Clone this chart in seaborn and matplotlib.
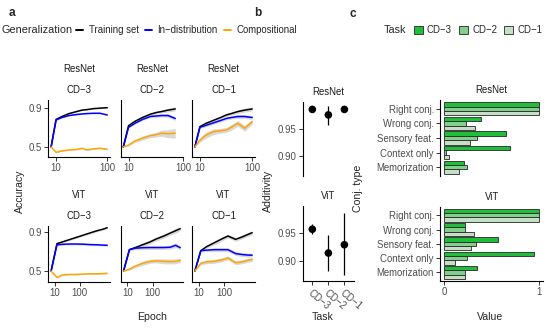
import numpy as np
import pandas as pd
import matplotlib
matplotlib.use("Agg")
import matplotlib.pyplot as plt
from matplotlib.lines import Line2D
from matplotlib.patches import Patch
from matplotlib.ticker import NullLocator
import seaborn as sns

sns.set_style("ticks")
plt.rcParams["font.family"] = ["Liberation Sans", "DejaVu Sans"]

tasks = ["CD−3", "CD−2", "CD−1"]
gen_types = ["Training set", "In−distribution", "Compositional"]
gen_colors = ["black", "#0000FF", "#FFA500"]
task_colors = ["#1fbf3a", "#80d08c", "#c6ddc6"]

# panel a: accuracy curves, ResNet
resnet_epochs = {"CD−3": [8, 10, 13, 18, 25, 32, 40, 53, 72, 100],
                 "CD−2": [8, 10, 13, 18, 25, 32, 40, 53, 72],
                 "CD−1": [8, 10, 13, 18, 25, 32, 40, 53, 72, 100]}
resnet_train = {"CD−3": [0.50, 0.78, 0.81, 0.84, 0.86, 0.875, 0.88, 0.89, 0.895, 0.90],
                "CD−2": [0.50, 0.717, 0.76, 0.80, 0.833, 0.85, 0.86, 0.875, 0.887],
                "CD−1": [0.50, 0.707, 0.74, 0.77, 0.80, 0.826, 0.84, 0.86, 0.875, 0.887]}
resnet_indist = {"CD−3": [0.50, 0.775, 0.80, 0.82, 0.83, 0.836, 0.84, 0.843, 0.843, 0.826],
                 "CD−2": [0.50, 0.70, 0.74, 0.78, 0.81, 0.815, 0.82, 0.82, 0.79],
                 "CD−1": [0.50, 0.70, 0.72, 0.745, 0.77, 0.79, 0.80, 0.81, 0.81, 0.80]}
resnet_comp = {"CD−3": [0.50, 0.446, 0.46, 0.47, 0.475, 0.487, 0.47, 0.48, 0.487, 0.477],
               "CD−2": [0.50, 0.52, 0.56, 0.59, 0.615, 0.625, 0.64, 0.635, 0.64],
               "CD−1": [0.50, 0.57, 0.62, 0.655, 0.665, 0.673, 0.70, 0.74, 0.69, 0.757]}
resnet_band_fit = {"CD−3": [0, 0.005, 0.005, 0.005, 0.005, 0.005, 0.005, 0.005, 0.005, 0.005],
                   "CD−2": [0, 0.005, 0.01, 0.01, 0.012, 0.015, 0.015, 0.02, 0.02],
                   "CD−1": [0, 0.01, 0.015, 0.015, 0.015, 0.015, 0.015, 0.02, 0.02, 0.02]}
resnet_band_comp = {"CD−3": [0, 0.005, 0.005, 0.005, 0.005, 0.005, 0.005, 0.005, 0.005, 0.005],
                    "CD−2": [0, 0.01, 0.015, 0.02, 0.02, 0.025, 0.03, 0.04, 0.05],
                    "CD−1": [0, 0.02, 0.03, 0.03, 0.025, 0.025, 0.03, 0.03, 0.03, 0.025]}

# panel a: accuracy curves, ViT
vit_epoch_list = [7, 12, 20, 40, 80, 140, 280, 500, 830, 1250]
vit_epochs = {t: vit_epoch_list for t in tasks}
vit_train = {"CD−3": [0.50, 0.782, 0.80, 0.825, 0.85, 0.87, 0.895, 0.915, 0.93, 0.945],
             "CD−2": [0.50, 0.72, 0.74, 0.77, 0.80, 0.83, 0.86, 0.89, 0.915, 0.935],
             "CD−1": [0.50, 0.71, 0.75, 0.79, 0.83, 0.86, 0.826, 0.85, 0.875, 0.894]}
vit_indist = {"CD−3": [0.50, 0.77, 0.775, 0.778, 0.778, 0.776, 0.772, 0.77, 0.767, 0.765],
              "CD−2": [0.50, 0.72, 0.735, 0.74, 0.742, 0.742, 0.742, 0.745, 0.765, 0.74],
              "CD−1": [0.50, 0.71, 0.715, 0.72, 0.72, 0.72, 0.68, 0.67, 0.665, 0.663]}
vit_comp = {"CD−3": [0.50, 0.436, 0.46, 0.466, 0.466, 0.47, 0.472, 0.472, 0.475, 0.477],
            "CD−2": [0.50, 0.52, 0.55, 0.58, 0.60, 0.605, 0.60, 0.598, 0.60, 0.61],
            "CD−1": [0.50, 0.58, 0.595, 0.60, 0.615, 0.635, 0.585, 0.595, 0.61, 0.62]}
vit_band_fit = {"CD−3": [0, 0.01, 0.01, 0.01, 0.01, 0.01, 0.01, 0.01, 0.01, 0.01],
                "CD−2": [0, 0.01, 0.015, 0.02, 0.02, 0.02, 0.02, 0.02, 0.025, 0.02],
                "CD−1": [0, 0.01, 0.015, 0.02, 0.02, 0.02, 0.02, 0.02, 0.02, 0.02]}
vit_band_comp = {"CD−3": [0, 0.005, 0.005, 0.005, 0.005, 0.005, 0.005, 0.005, 0.005, 0.005],
                 "CD−2": [0, 0.01, 0.015, 0.02, 0.02, 0.02, 0.025, 0.025, 0.025, 0.02],
                 "CD−1": [0, 0.015, 0.02, 0.02, 0.02, 0.02, 0.02, 0.02, 0.02, 0.02]}

# panel b: additivity with intervals
resnet_add = [0.985, 0.975, 0.985]
resnet_add_lo = [0.983, 0.957, 0.983]
resnet_add_hi = [0.987, 0.992, 0.987]
vit_add = [0.957, 0.914, 0.929]
vit_add_lo = [0.949, 0.882, 0.874]
vit_add_hi = [0.966, 0.947, 0.987]

# panel c: conjunction types
conj_types = ["Right conj.", "Wrong conj.", "Sensory feat.", "Context only", "Memorization"]
resnet_conj = {"CD−3": [1.0, 0.39, 0.65, 0.69, 0.21],
               "CD−2": [1.0, 0.23, 0.35, 0.015, 0.24],
               "CD−1": [1.0, 0.32, 0.27, 0.05, 0.16]}
vit_conj = {"CD−3": [1.0, 0.22, 0.57, 0.95, 0.35],
            "CD−2": [1.0, 0.22, 0.34, 0.24, 0.22],
            "CD−1": [1.0, 0.31, 0.28, 0.11, 0.22]}

W, H = 550, 331
fig = plt.figure(figsize=(W / 100, H / 100), dpi=100)


def px_axes(x0, y0, x1, y1):
    return fig.add_axes([x0 / W, 1 - y1 / H, (x1 - x0) / W, (y1 - y0) / H])


def style(ax, bottom=True):
    ax.spines["top"].set_visible(False)
    ax.spines["right"].set_visible(False)
    ax.spines["bottom"].set_visible(bottom)
    for s in ["left", "bottom"]:
        ax.spines[s].set_linewidth(0.8)
        ax.spines[s].set_color("black")
    ax.tick_params(length=2.8, width=0.7, color="#333333", labelsize=6.9,
                   labelcolor="#4D4D4D", pad=1.6)
    ax.set_xlabel("")
    ax.set_ylabel("")
    ax.set_facecolor("none")


# ---- panel a ----
a_cols = [(48.3, 110), (120.7, 183), (192, 255)]
a_rows = [(100, 157), (226, 282)]
a_models = [
    ("ResNet", resnet_epochs, resnet_train, resnet_indist, resnet_comp,
     resnet_band_fit, resnet_band_comp, (0.398, 0.978)),
    ("ViT", vit_epochs, vit_train, vit_indist, vit_comp,
     vit_band_fit, vit_band_comp, (0.388, 0.963)),
]
for (y0, y1), (model, ep, tr, ind, cp, bf, bc, ylim) in zip(a_rows, a_models):
    for j, ((x0, x1), task) in enumerate(zip(a_cols, tasks)):
        ax = px_axes(x0, y0, x1, y1)
        e = np.array(ep[task])
        series = [tr[task], ind[task], cp[task]]
        bands = [bf[task], bf[task], bc[task]]
        for vals, b in zip(series, bands):
            v, b = np.array(vals), np.array(b)
            ax.fill_between(e, v - b, v + b, color="#cccccc", alpha=0.75, lw=0)
        df = pd.DataFrame({
            "epoch": np.tile(e, 3),
            "acc": np.concatenate(series),
            "gen": np.repeat(gen_types, len(e)),
        })
        sns.lineplot(data=df, x="epoch", y="acc", hue="gen", hue_order=gen_types,
                     palette=gen_colors, lw=1.1, legend=False, ax=ax)
        ax.set_xscale("log")
        lo, hi = np.log10(e.min()), np.log10(e.max())
        d = (hi - lo) * 0.05
        ax.set_xlim(10 ** (lo - d), 10 ** (hi + d))
        ax.set_xticks([10, 100])
        ax.set_xticklabels(["10", "100"])
        ax.xaxis.set_minor_locator(NullLocator())
        ax.set_ylim(*ylim)
        ax.set_yticks([0.5, 0.9])
        style(ax)
        if j == 0:
            ax.set_yticklabels(["0.5", "0.9"])
        else:
            ax.set_yticklabels([])
            ax.tick_params(axis="y", length=0)
        xc = (x0 + x1) / 2 / W
        fig.text(xc, 1 - (y0 - 30.5) / H, model, ha="center", va="center",
                 fontsize=6.9, color="#1A1A1A")
        fig.text(xc, 1 - (y0 - 10) / H, task, ha="center", va="center",
                 fontsize=6.9, color="#1A1A1A")

fig.text(20 / W, 1 - 191 / H, "Accuracy", rotation=90, ha="center", va="center", fontsize=7.6)
fig.text(151.7 / W, 1 - 317 / H, "Epoch", ha="center", va="center", fontsize=7.6)

# ---- panel b ----
b_rows = [(101.7, 176), (206, 280.7)]
b_models = [("ResNet", resnet_add, resnet_add_lo, resnet_add_hi),
            ("ViT", vit_add, vit_add_lo, vit_add_hi)]
for i, ((y0, y1), (model, add, lo, hi)) in enumerate(zip(b_rows, b_models)):
    ax = px_axes(302.7, y0, 354, y1)
    df = pd.DataFrame({"task": tasks, "add": add})
    ax.vlines(np.arange(len(tasks)), lo, hi, color="black", lw=0.9)
    sns.scatterplot(data=df, x="task", y="add", color="black", s=30,
                    edgecolor="none", zorder=3, ax=ax)
    ax.set_xlim(-0.6, 2.6)
    ax.set_ylim(0.864, 0.999)
    ax.set_yticks([0.90, 0.95])
    ax.set_yticklabels(["0.90", "0.95"])
    style(ax, bottom=(i == 1))
    if i == 0:
        ax.tick_params(axis="x", length=0, labelbottom=False)
    else:
        ax.set_xticks(np.arange(len(tasks)))
        ax.set_xticklabels(tasks, rotation=-40, ha="left", va="top",
                           rotation_mode="anchor")
        ax.tick_params(axis="x", pad=2.5)
    fig.text(328.3 / W, 1 - (y0 - 10) / H, model, ha="center", va="center",
             fontsize=6.9, color="#1A1A1A")

fig.text(268 / W, 1 - 191 / H, "Additivity", rotation=90, ha="center", va="center", fontsize=7.6)
fig.text(323 / W, 1 - 317 / H, "Task", ha="center", va="center", fontsize=7.6)

# ---- panel c ----
c_rows = [(100, 176), (206.7, 281)]
c_models = [("ResNet", resnet_conj), ("ViT", vit_conj)]
for i, ((y0, y1), (model, conj)) in enumerate(zip(c_rows, c_models)):
    ax = px_axes(440, y0, 543.3, y1)
    df = pd.DataFrame({
        "conj": conj_types * len(tasks),
        "value": np.concatenate([conj[t] for t in tasks]),
        "task": np.repeat(tasks, len(conj_types)),
    })
    sns.barplot(data=df, x="value", y="conj", hue="task", order=conj_types,
                hue_order=tasks, palette=task_colors, orient="h", width=0.9,
                edgecolor="#262626", linewidth=0.6, saturation=1, legend=False, ax=ax)
    ax.set_xlim(-0.045, 1.045)
    ax.set_ylim(4.6, -0.6)
    style(ax, bottom=(i == 1))
    if i == 0:
        ax.tick_params(axis="x", length=0, labelbottom=False)
    else:
        ax.set_xticks([0, 1])
        ax.set_xticklabels(["0", "1"])
    fig.text(491.7 / W, 1 - (y0 - 10) / H, model, ha="center", va="center",
             fontsize=6.9, color="#1A1A1A")

fig.text(358 / W, 1 - 188 / H, "Conj. type", rotation=90, ha="center", va="center", fontsize=7.6)
fig.text(490 / W, 1 - 317 / H, "Value", ha="center", va="center", fontsize=7.6)

# ---- legends and panel letters ----
fig.text(2 / W, 1 - 30 / H, "Generalization", ha="left", va="center", fontsize=7.8)
fig.legend(handles=[Line2D([0], [0], color=c, lw=1.4) for c in gen_colors],
           labels=gen_types, loc="center left", bbox_to_anchor=(76 / W, 1 - 30 / H),
           ncol=3, frameon=False, fontsize=6.9, handlelength=0.75,
           handletextpad=0.6, columnspacing=0.6, borderpad=0, borderaxespad=0)
fig.text(384 / W, 1 - 30 / H, "Task", ha="left", va="center", fontsize=7.8)
fig.legend(handles=[Patch(facecolor=c, edgecolor="#262626", lw=0.6) for c in task_colors],
           labels=tasks, loc="center left", bbox_to_anchor=(414 / W, 1 - 30 / H),
           ncol=3, frameon=False, fontsize=6.9, handlelength=0.9, handleheight=0.85,
           handletextpad=0.45, columnspacing=0.75, borderpad=0, borderaxespad=0)

for letter, x, y in [("a", 11.7, 13.3), ("b", 258, 13), ("c", 353, 14)]:
    fig.text(x / W, 1 - y / H, letter, ha="center", va="center",
             fontsize=8.5, fontweight="bold")

fig.savefig("out.png", dpi=100)
